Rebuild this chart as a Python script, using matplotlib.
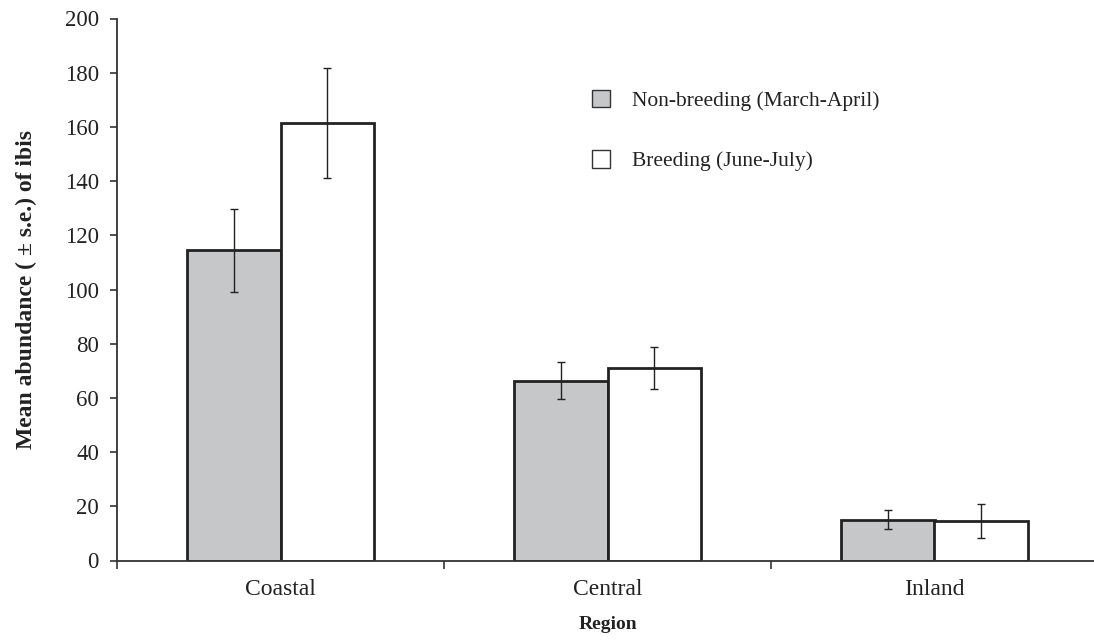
#!/usr/bin/env python3
import matplotlib
matplotlib.use('Agg')
import matplotlib.pyplot as plt
import numpy as np

regions = ['Coastal', 'Central', 'Inland']
nonbreeding = [114.4, 66.4, 15.1]
nonbreeding_se = [15.4, 6.7, 3.4]
breeding = [161.3, 70.9, 14.5]
breeding_se = [20.3, 7.7, 6.2]

plt.rcParams['font.family'] = ['Liberation Serif', 'DejaVu Serif']

fig = plt.figure(figsize=(10.94, 6.41), dpi=100)
ax = fig.add_axes([117 / 1094, 1 - 560.5 / 641, 981 / 1094, (560.5 - 18.5) / 641])

x = np.arange(len(regions))
w = 0.286
ax.bar(x - w / 2, nonbreeding, w, color='#c6c7c9', edgecolor='#222222', linewidth=2,
       label='Non-breeding (March-April)', zorder=2)
ax.bar(x + w / 2, breeding, w, color='white', edgecolor='#222222', linewidth=2,
       label='Breeding (June-July)', zorder=2)
ax.errorbar(x - w / 2, nonbreeding, yerr=nonbreeding_se, fmt='none', ecolor='#222222',
            elinewidth=1, capsize=3, capthick=1, zorder=3)
ax.errorbar(x + w / 2, breeding, yerr=breeding_se, fmt='none', ecolor='#222222',
            elinewidth=1, capsize=3, capthick=1, zorder=3)

ax.set_xlim(-0.5, 2.5)
ax.set_ylim(0, 200)
ax.set_yticks(np.arange(0, 201, 20))
ax.set_xticks([-0.5, 0.5, 1.5, 2.5])
ax.set_xticklabels([])
ax.set_xticks(x, minor=True)
ax.set_xticklabels(regions, minor=True)
ax.tick_params(axis='x', which='major', direction='out', length=6, width=1.2, color='#333333')
ax.tick_params(axis='x', which='minor', length=0, pad=13, labelsize=17, labelcolor='#222222')
ax.tick_params(axis='y', direction='out', length=5, width=1.2, color='#333333', pad=8,
               labelsize=16.5, labelcolor='#222222')

for s in ['top', 'right']:
    ax.spines[s].set_visible(False)
for s in ['left', 'bottom']:
    ax.spines[s].set_color('#333333')
    ax.spines[s].set_linewidth(1.3)

ax.set_xlabel('Region', fontsize=14, fontweight='bold', labelpad=12, color='#222222')
ax.set_ylabel('Mean abundance ( ± s.e.) of ibis', fontsize=17, fontweight='bold',
              labelpad=20, color='#222222')

leg = ax.legend(loc='upper left', bbox_to_anchor=(475 / 981, 1 - 71 / 542), frameon=False,
                fontsize=15.5, handlelength=0.85, handleheight=0.85, handletextpad=1.0,
                labelspacing=1.85, borderaxespad=0, borderpad=0)
for h in leg.legend_handles:
    h.set_linewidth(1)
    h.set_edgecolor('#333333')
for t in leg.get_texts():
    t.set_color('#222222')

plt.savefig('out.png', dpi=100)
